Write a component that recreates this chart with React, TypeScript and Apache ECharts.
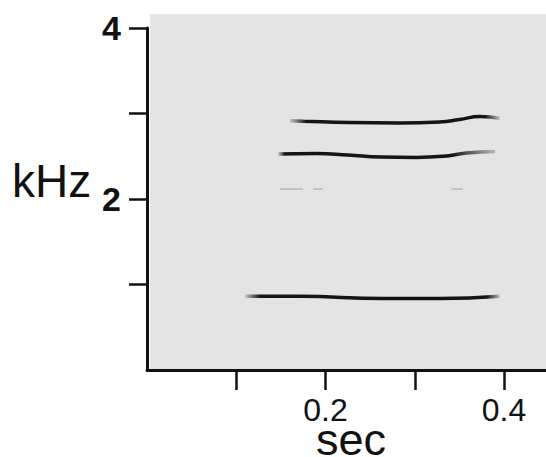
import React, { useEffect, useRef } from "react";
import * as echarts from "echarts";

// Axis ticks / labels
const xTickValues = [0.1, 0.2, 0.3, 0.4];
const xLabelValues = [0.2, 0.4];
const yTickValues = [1, 2, 3, 4];
const yLabelValues = [2, 4];

// Spectral traces (sec, kHz)
const upperSec = [0.16, 0.175, 0.227, 0.283, 0.328, 0.35, 0.373, 0.395];
const upperKHz = [2.915, 2.91, 2.895, 2.89, 2.9, 2.93, 2.965, 2.945];

const middleSec = [0.147, 0.19, 0.225, 0.262, 0.302, 0.332, 0.358, 0.39];
const middleKHz = [2.525, 2.533, 2.515, 2.49, 2.486, 2.5, 2.537, 2.555];

const lowerSec = [0.11, 0.171, 0.265, 0.328, 0.395];
const lowerKHz = [0.862, 0.862, 0.835, 0.835, 0.862];

// faint fragments near 2.1 kHz
const faintSegments = [
  { sec: [0.149, 0.175], kHz: [2.117, 2.117] },
  { sec: [0.186, 0.197], kHz: [2.117, 2.117] },
  { sec: [0.341, 0.354], kHz: [2.117, 2.117] },
];

const zip = (xs: number[], ys: number[]) => xs.map((x, i) => [x, ys[i]]);

const fade = (a: number, b: number) =>
  new echarts.graphic.LinearGradient(0, 0, 1, 0, [
    { offset: 0, color: "rgba(20,20,20,0.15)" },
    { offset: a, color: "#141414" },
    { offset: b, color: "#141414" },
    { offset: 1, color: "rgba(20,20,20,0.2)" },
  ]);

export default function App() {
  const ref = useRef<HTMLDivElement>(null);
  useEffect(() => {
    if (!ref.current) return;
    const chart = echarts.init(ref.current, null, { renderer: "svg" });
    const font = "'Liberation Sans', Arial, Helvetica, sans-serif";
    chart.setOption({
      animation: false,
      backgroundColor: "#ffffff",
      grid: { left: 147, right: 0, top: 28, bottom: 87 },
      graphic: [
        {
          type: "rect",
          z: -10,
          shape: { x: 150, y: 14, width: 396, height: 355 },
          style: { fill: "#e4e4e4" },
          silent: true,
        },
        {
          type: "text",
          x: 12,
          y: 181,
          style: {
            text: "kHz",
            font: `46px ${font}`,
            fill: "#111",
            align: "left",
            verticalAlign: "middle",
          },
        },
        {
          type: "text",
          x: 351,
          y: 439,
          style: {
            text: "sec",
            font: `45px ${font}`,
            fill: "#111",
            align: "center",
            verticalAlign: "middle",
          },
        },
      ],
      xAxis: {
        type: "value",
        min: 0,
        max: 0.447,
        axisLine: { show: true, lineStyle: { color: "#111", width: 3 } },
        axisTick: {
          show: true,
          customValues: xTickValues,
          length: 20,
          lineStyle: { color: "#111", width: 2.5 },
        },
        axisLabel: {
          customValues: xLabelValues,
          margin: 24,
          fontSize: 32,
          fontFamily: font,
          color: "#111",
          formatter: (v: number) => v.toFixed(1),
        },
        splitLine: { show: false },
      },
      yAxis: {
        type: "value",
        min: 0,
        max: 4,
        axisLine: { show: true, lineStyle: { color: "#111", width: 3 } },
        axisTick: {
          show: true,
          customValues: yTickValues,
          length: 18,
          lineStyle: { color: "#111", width: 2.5 },
        },
        axisLabel: {
          customValues: yLabelValues,
          margin: 26,
          fontSize: 34,
          fontWeight: "bold",
          fontFamily: font,
          color: "#111",
        },
        splitLine: { show: false },
      },
      series: [
        {
          type: "line",
          data: zip(upperSec, upperKHz),
          showSymbol: false,
          smooth: 0.5,
          lineStyle: { color: fade(0.08, 0.93), width: 3.5 },
        },
        {
          type: "line",
          data: zip(middleSec, middleKHz),
          showSymbol: false,
          smooth: 0.5,
          lineStyle: { color: fade(0.03, 0.8), width: 3.5 },
        },
        {
          type: "line",
          data: zip(lowerSec, lowerKHz),
          showSymbol: false,
          smooth: 0.5,
          lineStyle: { color: fade(0.06, 0.95), width: 3.5 },
        },
        ...faintSegments.map((s) => ({
          type: "line",
          data: zip(s.sec, s.kHz),
          showSymbol: false,
          lineStyle: { color: "#c2c2c2", width: 2 },
        })),
      ],
    });
    return () => chart.dispose();
  }, []);
  return (
    <div
      ref={ref}
      style={{ position: "fixed", left: 0, top: 0, width: 546, height: 457 }}
    />
  );
}
